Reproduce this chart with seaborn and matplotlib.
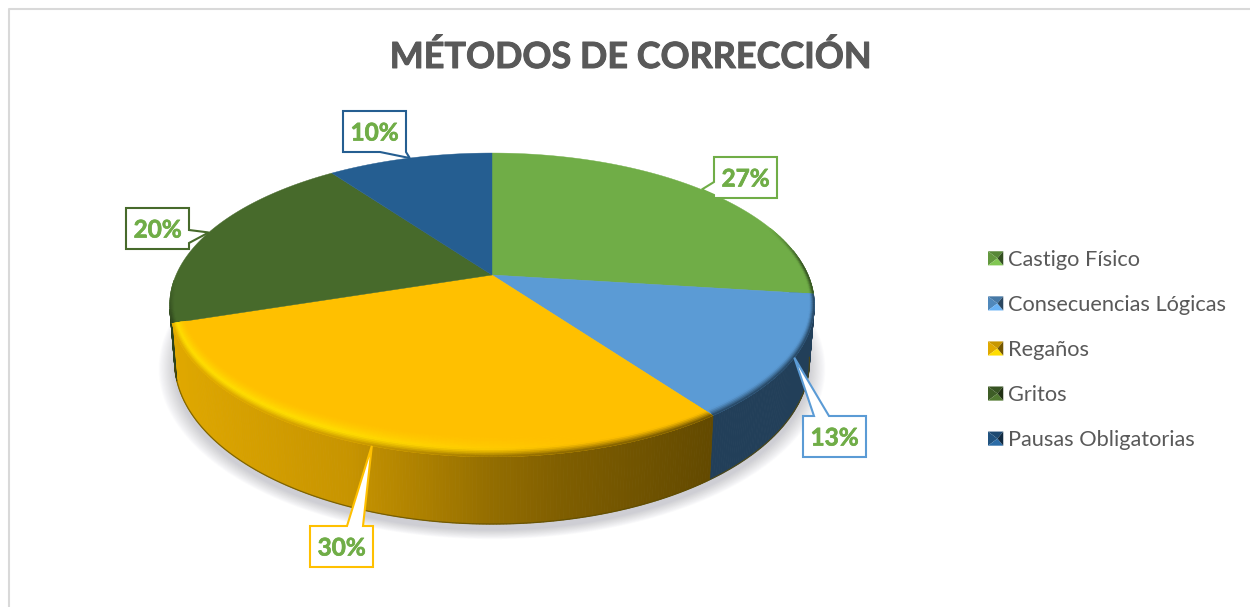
#!/usr/bin/env python3
"""Metodos de correccion - 3D style pie chart."""

import numpy as np
import seaborn as sns
import matplotlib
matplotlib.use("Agg")
import matplotlib.pyplot as plt
import matplotlib.patheffects as pe
from matplotlib.collections import PolyCollection
from matplotlib.legend_handler import HandlerBase
from matplotlib.patches import Patch, Polygon

title = "MÉTODOS DE CORRECCIÓN"
categories = ["Castigo Físico", "Consecuencias Lógicas", "Regaños", "Gritos", "Pausas Obligatorias"]
values = [27, 13, 30, 20, 10]
slice_colors = ["#70AD47", "#5B9BD5", "#FFC000", "#476A2B", "#255E91"]
side_colors = ["#2F4A1E", "#223F59", "#C89600", "#2C421C", "#173A5A"]

# upper-left corner of each callout box, in pixels
box_corners = [(714, 157), (803, 416), (310, 526), (126, 208), (343, 111)]
# which edge of the box the pointer leaves from
box_edges = ["left", "top", "top", "right", "bottom"]

sns.set_theme(style="white")
plt.rcParams["font.family"] = ["Lato", "DejaVu Sans"]
palette = sns.color_palette(slice_colors)
sides = sns.color_palette(side_colors)

# pie projection, fitted on the picture
CX, CY = 492, 275
RX, RY, PERSP = 316, 146, 0.197
BOX_W, BOX_H = 63, 41


def project(theta, shrink_u=1.0, shrink_v=1.0):
    """Disc angle (deg, clockwise from top) to pixel position on the top face."""
    t = np.radians(theta)
    u, v = np.sin(t) * shrink_u, np.cos(t) * shrink_v
    w = 1 + PERSP * v
    return CX + RX * u / w, CY - RY * v / w


def project_bottom(theta, grow=1.0, drop=0.0):
    """Same for the lower rim of the pie."""
    t = np.radians(theta)
    u, v = np.sin(t), np.cos(t)
    w = 1 + PERSP * v
    return CX + 0.985 * grow * RX * u / w, CY - grow * RY * v / w + 54 / w + drop


def lerp(a, b, t):
    return tuple(np.array(a) * (1 - t) + np.array(b) * t)


def yellow_side(x):
    stops_x = [170, 350, 490, 560, 710]
    stops = np.array([(0.88, 0.66, 0.0), (0.78, 0.58, 0.0), (0.58, 0.43, 0.0),
                      (0.50, 0.37, 0.0), (0.39, 0.29, 0.0)])
    return tuple(np.interp(x, stops_x, stops[:, i]) for i in range(3))


class PyramidKey(HandlerBase):
    """Small bevelled legend square."""

    def create_artists(self, legend, orig_handle, xd, yd, width, height, fontsize, trans):
        c = np.array(orig_handle.get_facecolor()[:3])
        x0, y0 = -xd, -yd
        x1, y1 = x0 + width, y0 + height
        mx, my = x0 + width * 0.62, y0 + height / 2
        faces = [
            ([(x0, y1), (x1, y1), (mx, my)], c * 0.78),
            ([(x0, y0), (x0, y1), (mx, my)], c * 0.88),
            ([(x0, y0), (x1, y0), (mx, my)], np.clip(c * 1.15, 0, 1)),
            ([(x1, y0), (x1, y1), (mx, my)], c * 0.45),
        ]
        return [Polygon(p, closed=True, facecolor=col, edgecolor="none", transform=trans)
                for p, col in faces]


fig = plt.figure(figsize=(12.5, 6.07), dpi=100)
ax = fig.add_axes([0, 0, 1, 1])
ax.set_xlim(0, 1250)
ax.set_ylim(607, 0)
ax.axis("off")

# chart frame, only left and top are in the crop
ax.plot([8.5, 8.5, 1250], [607, 8.5, 8.5], color="#D9D9D9", lw=1.5, zorder=1)

edges = np.concatenate([[0], np.cumsum(values)]) * 360 / np.sum(values)
mids = (edges[:-1] + edges[1:]) / 2

# soft shadow
all_angles = np.linspace(0, 360, 241)
for g in np.linspace(1.05, 1.0, 16):
    sx, sy = project_bottom(all_angles, grow=g, drop=6)
    ax.fill(sx, sy, color="#8A8A96", alpha=0.026, lw=0, zorder=2)

# side wall, narrow strips so that the yellow one can run a gradient
quads, quad_colors = [], []
for i in range(len(values)):
    lo, hi = max(edges[i], 80), min(edges[i + 1], 257)
    if hi <= lo:
        continue
    steps = np.linspace(lo, hi, int((hi - lo) * 2) + 2)
    for a, b in zip(steps[:-1], steps[1:]):
        xa, ya = project(a)
        xb, yb = project(b)
        xc, yc = project_bottom(b)
        xd, yd = project_bottom(a)
        quads.append([(xa, ya), (xb, yb), (xc, yc), (xd, yd)])
        quad_colors.append(yellow_side((xa + xb) / 2) if i == 2 else sides[i])
ax.add_collection(PolyCollection(quads, facecolors=quad_colors, edgecolors=quad_colors,
                                 linewidths=0.6, zorder=3))

rim = np.linspace(max(edges[1], 100), 257, 120)
rx, ry = project_bottom(rim)
ax.plot(rx, ry, color="#5A4A00", lw=0.9, alpha=0.7, zorder=3.5)

# top face
for i in range(len(values)):
    a = np.linspace(edges[i], edges[i + 1], 120)
    x, y = project(a)
    ax.fill(np.r_[CX, x], np.r_[CY, y], color=palette[i], lw=0.3, zorder=4)

# bevel along the front rim, kept inside its own slice
bands = np.linspace(0, 1, 15)
for i in range(len(values)):
    lo, hi = max(edges[i], 70), min(edges[i + 1], 268)
    if hi <= lo:
        continue
    bevel_quads, bevel_colors = [], []
    steps = np.linspace(lo, hi, int((hi - lo) * 1.5) + 2)
    for a, b in zip(steps[:-1], steps[1:]):
        m = (a + b) / 2
        strength = np.clip(min(m - 70, 268 - m) / 16, 0, 1)
        xm = project(m)[0]
        for s0, s1 in zip(bands[:-1], bands[1:]):
            t = (s0 + s1) / 2
            # s runs from inner (0) to the outer edge (1)
            f = lambda th, s: project(th, 1 - 0.035 * (1 - s), 1 - 0.10 * (1 - s))
            pts = [f(a, s0), f(b, s0), f(b, s1), f(a, s1)]
            base = palette[i]
            edge = yellow_side(xm) if i == 2 else sides[i]
            if i == 2:
                glow = lerp((1.0, 0.87, 0.0), base, np.clip((xm - 330) / 260, 0, 1))
            else:
                glow = base
            if t < 0.65:
                c = lerp(base, glow, (t / 0.65) ** 1.5)
            else:
                c = lerp(glow, edge, ((t - 0.65) / 0.35) ** 1.3)
            bevel_quads.append(pts)
            bevel_colors.append(lerp(base, c, strength))
    coll = PolyCollection(bevel_quads, facecolors=bevel_colors, edgecolors=bevel_colors,
                          linewidths=0.4, zorder=5)
    ax.add_collection(coll)
    cx_, cy_ = project(np.linspace(edges[i], edges[i + 1], 120), 1.01, 1.01)
    clip = Polygon(np.c_[np.r_[CX, cx_], np.r_[CY, cy_]], closed=True, transform=ax.transData)
    coll.set_clip_path(clip)

# callouts, the pointer tip sits on the rim at the middle of each slice
for i, pct in enumerate(values):
    x0, y0 = box_corners[i]
    x1, y1 = x0 + BOX_W, y0 + BOX_H
    tip = project(mids[i])
    side = box_edges[i]
    if side == "left":
        pts = [(x0, y0), (x1, y0), (x1, y1), (x0, y1), (x0, y0 + 38), tip, (x0, y0 + 25)]
    elif side == "right":
        pts = [(x0, y0), (x1, y0), (x1, y0 + 22), tip, (x1, y0 + 35), (x1, y1), (x0, y1)]
    elif side == "bottom":
        pts = [(x0, y0), (x1, y0), (x1, y1), tip, (x0 + 37, y1), (x0, y1)]
    elif i == 1:
        pts = [(x0, y0), (x0 + 11, y0), tip, (x0 + 26, y0), (x1, y0), (x1, y1), (x0, y1)]
    else:
        pts = [(x0, y0), (x0 + 37, y0), tip, (x0 + 53, y0), (x1, y0), (x1, y1), (x0, y1)]
    ax.add_patch(Polygon(pts, closed=True, facecolor="white", edgecolor=palette[i],
                         lw=1.5, joinstyle="miter", zorder=6))
    ax.text(x0 + BOX_W / 2, y0 + BOX_H / 2 + 1.5, f"{pct}%", ha="center", va="center",
            fontsize=17.5, fontweight="bold", color="#70AD47", zorder=7,
            path_effects=[pe.withStroke(linewidth=0.5, foreground="#70AD47")])

ax.text(631, 57, title, ha="center", va="center", fontsize=25.9, fontweight="bold", color="#595959",
        path_effects=[pe.withStroke(linewidth=0.7, foreground="#595959")])

handles = [Patch(facecolor=c) for c in palette]
ax.legend(handles, categories, handler_map={Patch: PyramidKey()},
          loc="upper left", bbox_to_anchor=(988, 250), bbox_transform=ax.transData,
          frameon=False, fontsize=15.7, labelcolor="#595959", borderpad=0, borderaxespad=0,
          handlelength=0.7, handleheight=0.62, handletextpad=0.22, labelspacing=1.15)

fig.savefig("out.png", dpi=100)
